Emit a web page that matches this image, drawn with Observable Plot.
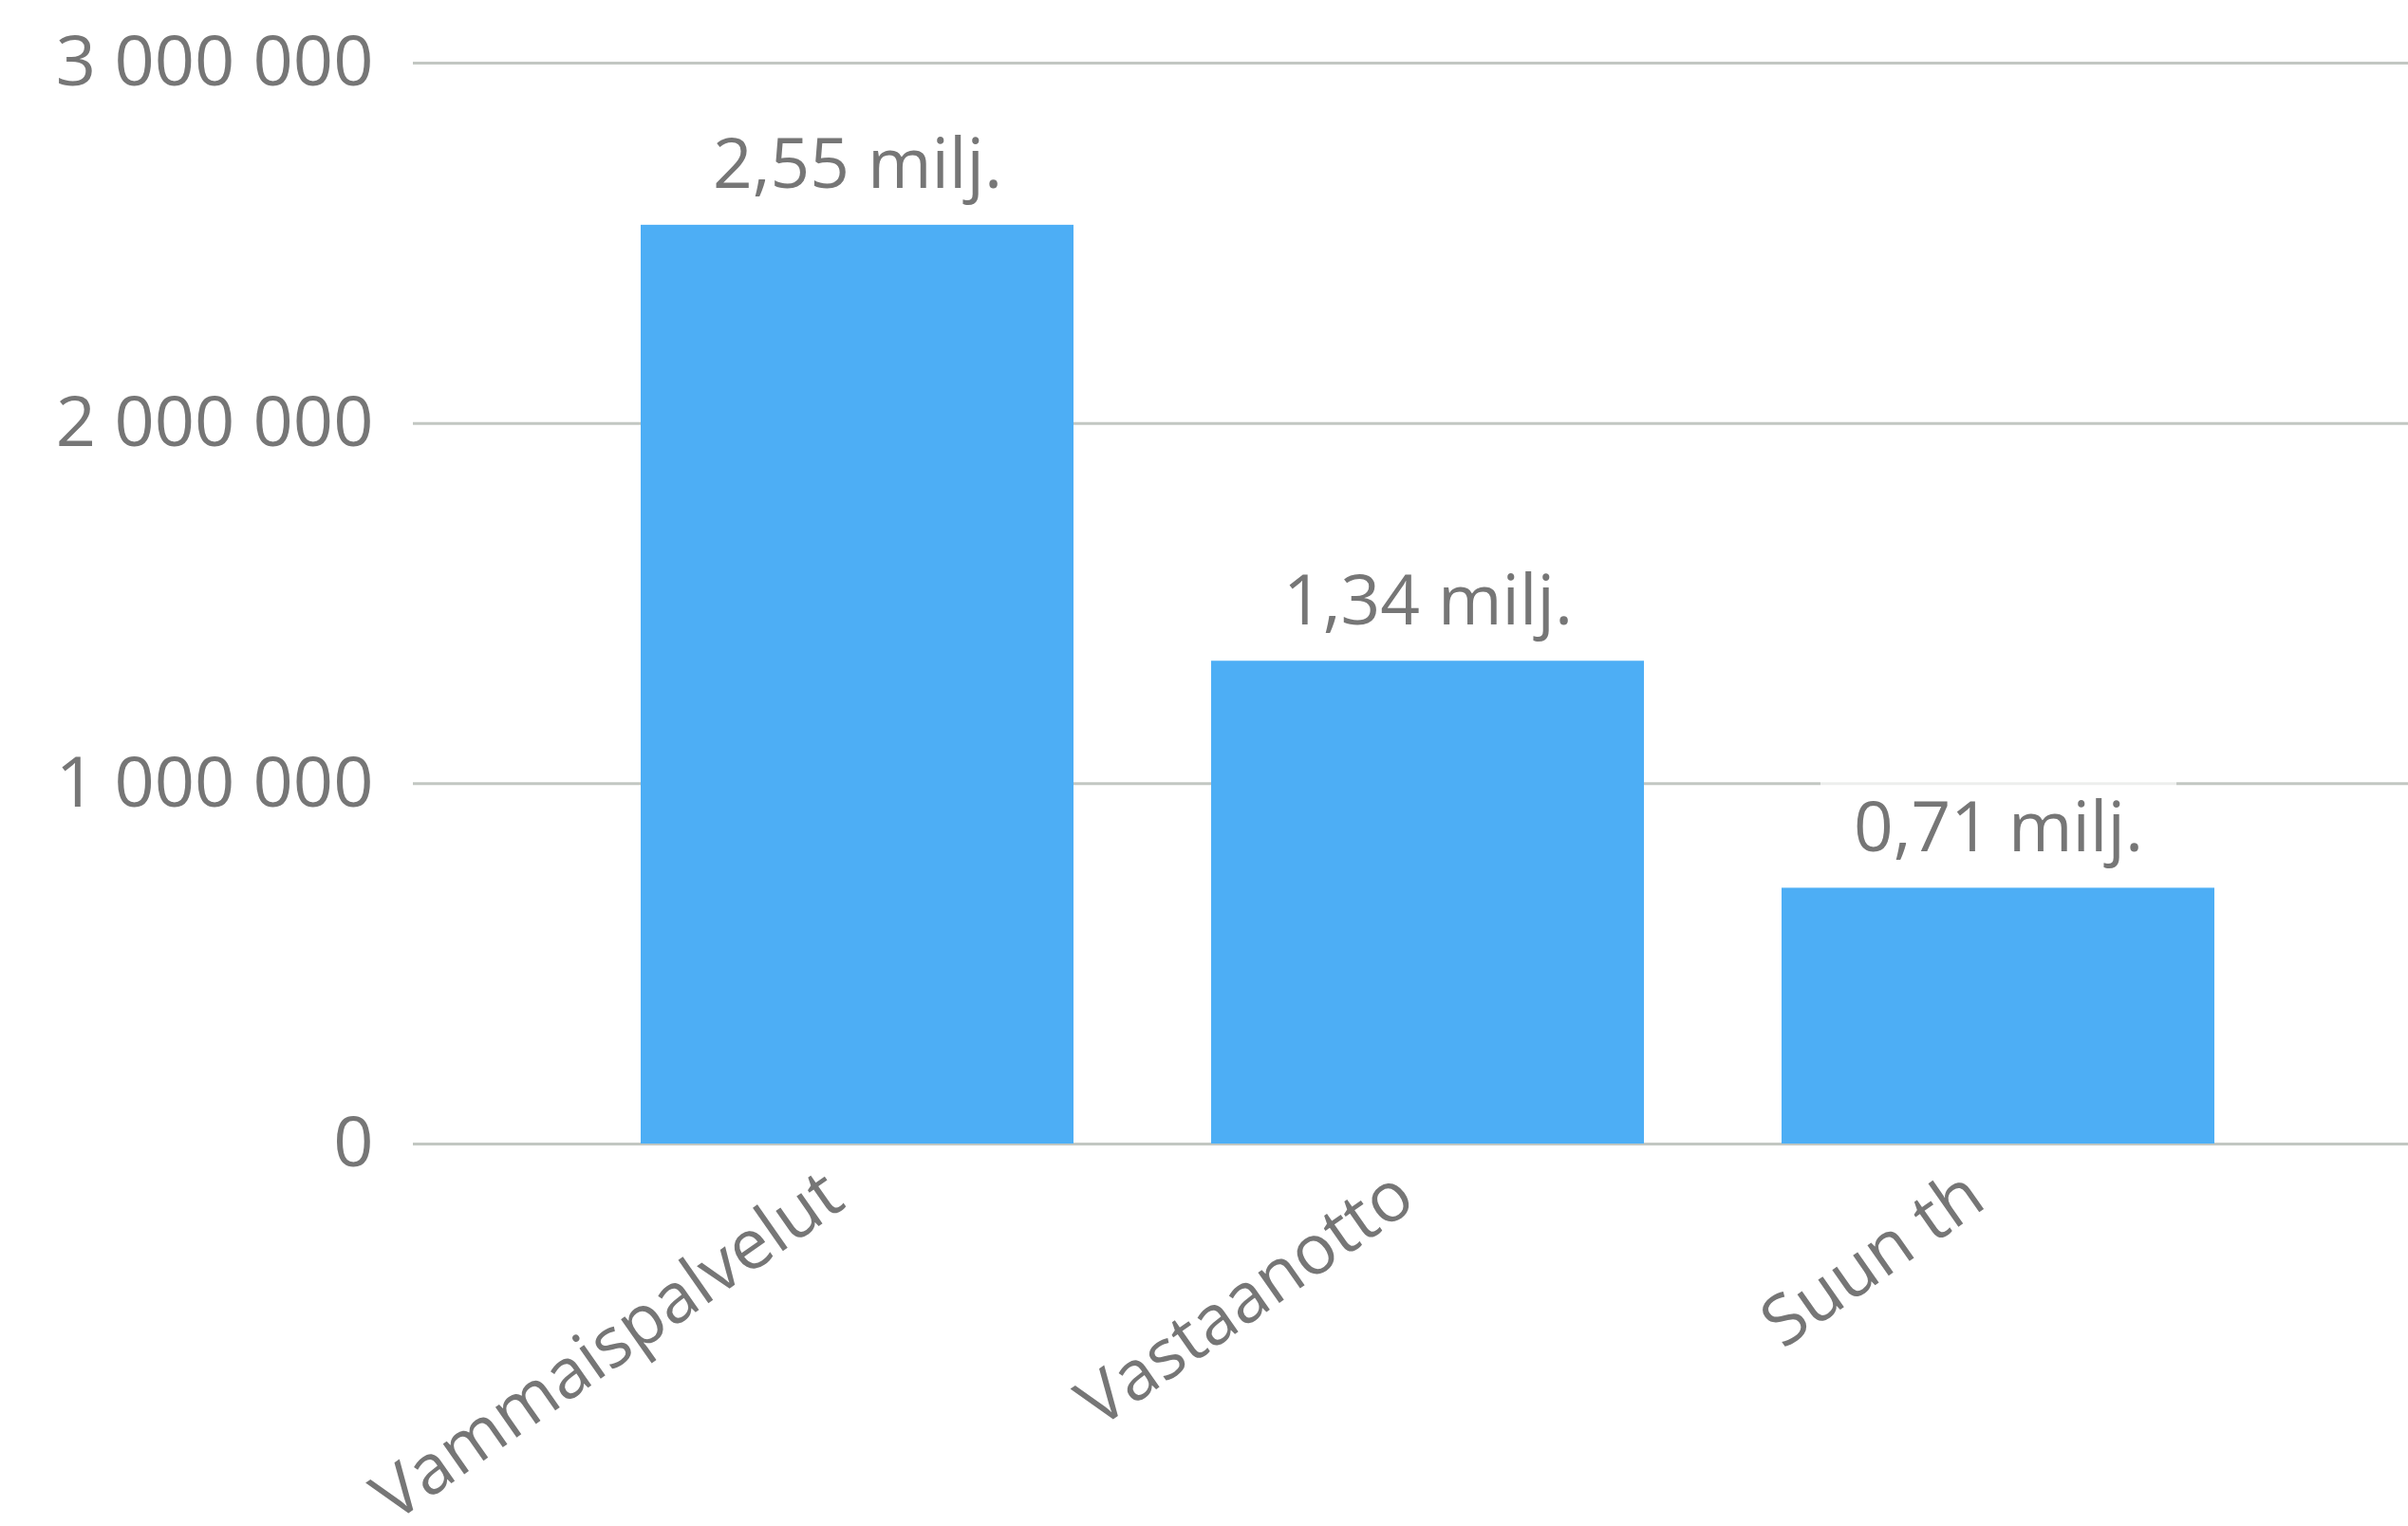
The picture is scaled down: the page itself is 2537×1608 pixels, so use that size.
<!DOCTYPE html>
<html>
<head>
<meta charset="utf-8">
<script src="https://cdn.jsdelivr.net/npm/d3@7"></script>
<script src="https://cdn.jsdelivr.net/npm/@observablehq/plot@0.6"></script>
<style>
  html, body { margin: 0; padding: 0; background: #ffffff; }
  #chart { width: 2537px; height: 1608px; }
  svg { display: block; }
</style>
</head>
<body>
<div id="chart"></div>
<script>
const categories = ["Vammaispalvelut", "Vastaanotto", "Suun th"];
const values = [2550000, 1340000, 710000];
const yTicks = [0, 1000000, 2000000, 3000000];

const data = categories.map((c, i) => ({category: c, value: values[i]}));

const locale = d3.formatLocale({decimal: ",", thousands: " ", grouping: [3], currency: ["", " €"]});
const fmtTick = locale.format(",.0f");
const fmtLabel = v => locale.format(".2f")(v / 1e6) + " milj.";

const textColor = "#767676";
const font = "'Open Sans', 'Noto Sans', sans-serif";

const chart = Plot.plot({
  width: 2537,
  height: 1608,
  marginTop: 66,
  marginBottom: 403,
  marginLeft: 435,
  marginRight: 0,
  style: {fontFamily: font, color: textColor, background: "#ffffff"},
  x: {domain: categories, range: [529, 2480], padding: 0.241},
  y: {domain: [0, 3000000]},
  marks: [
    Plot.ruleY(yTicks, {stroke: "#c2c7c2", strokeWidth: 3}),
    Plot.barY(data, {x: "category", y: "value", fill: "#4daef5"}),
    Plot.text(data, {
      x: "category", y: "value", text: d => fmtLabel(d.value),
      lineAnchor: "bottom", dy: -39, fontSize: 73, fill: textColor
    }),
    Plot.axisY({ticks: yTicks, tickSize: 0, tickPadding: 42, tickFormat: fmtTick, fontSize: 74, label: null, fill: textColor}),
    Plot.axisX({tickSize: 0, tickPadding: 40, tickRotate: -35, fontSize: 73, label: null, fill: textColor, dx: -24, dy: 6})
  ]
});

document.getElementById("chart").appendChild(chart);

// white label backgrounds behind the data labels
d3.select(chart).selectAll('g[aria-label="text"] text').each(function() {
  const bb = this.getBBox();
  const padX = 35, padY = 4;
  const r = document.createElementNS("http://www.w3.org/2000/svg", "rect");
  r.setAttribute("x", bb.x - padX);
  r.setAttribute("y", bb.y - padY);
  r.setAttribute("width", bb.width + 2 * padX);
  r.setAttribute("height", bb.height + 2 * padY);
  r.setAttribute("fill", "#ffffff");
  r.setAttribute("fill-opacity", "0.7");
  const t = this.getAttribute("transform");
  if (t) r.setAttribute("transform", t);
  this.parentNode.insertBefore(r, this);
});
</script>
</body>
</html>
